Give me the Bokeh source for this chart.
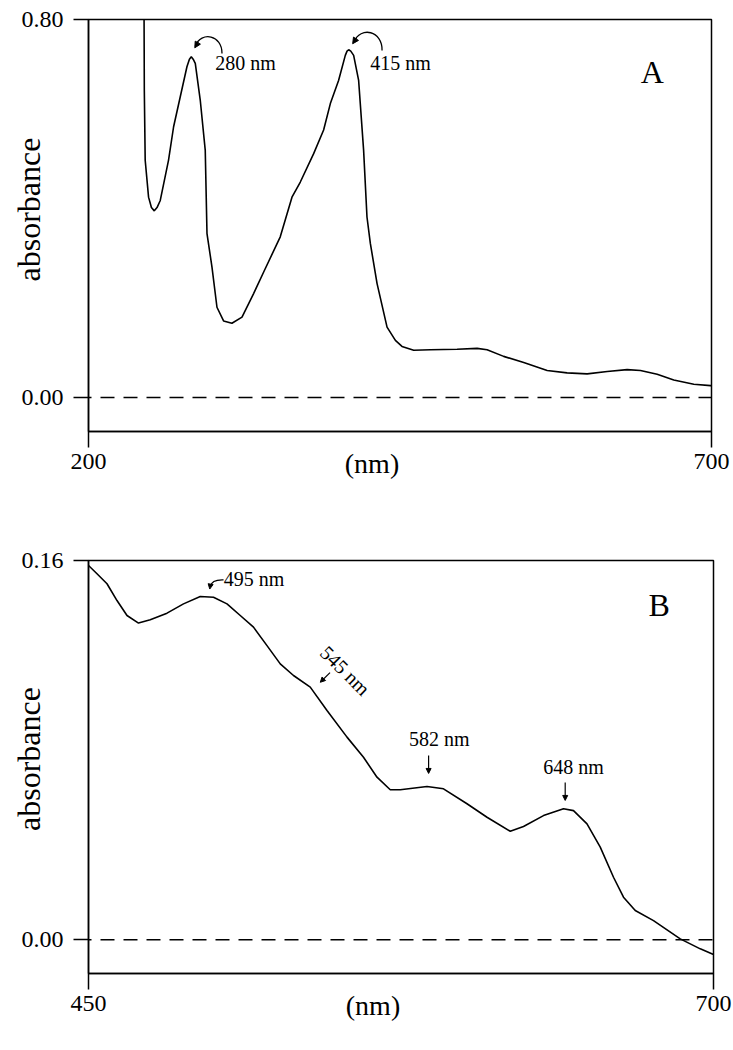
import numpy as np
from bokeh.plotting import figure
from bokeh.layouts import column
from bokeh.models import FixedTicker, PrintfTickFormatter, Span, Label, Arrow, NormalHead, Range1d
from bokeh.embed import file_html
from bokeh.resources import INLINE

FONT = "Liberation Serif"
NB = "\u00a0"

# ---------------- data ----------------
# Panel A : full spectrum
a_nm = [244.6, 244.8, 245.5, 248.2, 250.5, 252.8, 255.0, 257.6, 264.2, 268.3, 273.6, 279.0,
        281.0, 282.5, 284.0, 285.7, 289.7, 293.7, 295.1, 299.1, 303.1, 308.4, 315.1, 323.2,
        332.5, 340.5, 353.9, 363.3, 370.0, 380.7, 388.7, 394.1, 400.7, 406.1, 407.5, 408.8,
        410.5, 412.8, 416.8, 420.8, 423.5, 426.2, 431.6, 439.6, 446.3, 451.6, 461.0, 474.4,
        495.8, 511.9, 519.9, 533.2, 549.3, 568.1, 584.1, 600.2, 616.3, 632.3, 643.0, 656.4,
        669.7, 685.8, 699.2, 700.0]
a_abs = [0.800, 0.650, 0.502, 0.424, 0.402, 0.395, 0.402, 0.417, 0.502, 0.573, 0.636, 0.700,
         0.716, 0.721, 0.716, 0.707, 0.629, 0.523, 0.347, 0.276, 0.191, 0.162, 0.157, 0.170,
         0.220, 0.265, 0.340, 0.424, 0.456, 0.516, 0.566, 0.622, 0.671, 0.724, 0.733, 0.736,
         0.733, 0.724, 0.671, 0.523, 0.382, 0.326, 0.241, 0.149, 0.121, 0.108, 0.100, 0.101,
         0.102, 0.104, 0.101, 0.087, 0.074, 0.057, 0.052, 0.050, 0.055, 0.059, 0.057, 0.049,
         0.037, 0.028, 0.025, 0.025]
a_xticks = [200, 700]
a_yticks = [0.0, 0.8]
a_peak_text = ["280 nm", "415 nm"]
a_peak_nm = [282.5, 408.8]
a_peak_abs = [0.721, 0.736]

# Panel B : visible region
b_nm = [450.0, 453.4, 457.4, 461.4, 465.4, 470.0, 474.7, 481.4, 488.0, 494.7, 500.0, 505.4,
        510.7, 516.0, 521.4, 526.7, 532.0, 538.7, 545.4, 553.4, 560.0, 565.4, 570.7, 574.7,
        585.4, 592.0, 601.4, 609.4, 618.7, 624.0, 632.0, 640.0, 644.0, 649.4, 654.7, 660.0,
        664.0, 668.7, 676.0, 686.7, 694.7, 700.0]
b_abs = [0.1579, 0.1544, 0.1502, 0.1431, 0.1368, 0.1336, 0.1350, 0.1378, 0.1417, 0.1448,
         0.1445, 0.1417, 0.1368, 0.1319, 0.1241, 0.1164, 0.1115, 0.1066, 0.0967, 0.0855,
         0.0770, 0.0686, 0.0633, 0.0633, 0.0647, 0.0637, 0.0574, 0.0517, 0.0458, 0.0478,
         0.0524, 0.0553, 0.0545, 0.0489, 0.0391, 0.0264, 0.0180, 0.0124, 0.0081, 0.0004,
         -0.0038, -0.0062]
b_xticks = [450, 700]
b_yticks = [0.0, 0.16]
b_peak_text = ["495 nm", "545 nm", "582 nm", "648 nm"]
b_peak_nm = [494.7, 545.4, 585.4, 640.0]
b_peak_abs = [0.1448, 0.0967, 0.0647, 0.0553]


class P:
    def __init__(self, xr, yr, fw, fh):
        self.xr, self.yr, self.fw, self.fh = xr, yr, fw, fh
        self.sx = (xr[1] - xr[0]) / fw
        self.sy = (yr[1] - yr[0]) / fh

    def off(self, x, y, dx, dy):
        return x + dx * self.sx, y + dy * self.sy

    def frame(self, left, top):
        return self.xr[0] + left * self.sx, self.yr[1] - top * self.sy


def make_fig(info, xticks, yticks, bl, br, bt, bb, yfmt, xlabel, ylabel):
    p = figure(x_range=Range1d(*info.xr), y_range=Range1d(*info.yr),
               frame_width=info.fw, frame_height=info.fh,
               min_border_left=bl, min_border_right=br, min_border_top=bt, min_border_bottom=bb,
               output_backend="svg", toolbar_location=None)
    p.xgrid.visible = False
    p.ygrid.visible = False
    p.outline_line_color = "black"
    p.outline_line_width = 1.5
    p.outline_line_alpha = 1.0
    p.background_fill_color = "white"
    p.border_fill_color = "white"
    for ax in (p.xaxis[0], p.yaxis[0]):
        ax.axis_line_width = 1.5
        ax.axis_line_color = "black"
        ax.major_tick_line_width = 1.5
        ax.major_tick_line_color = "black"
        ax.major_tick_in = 0
        ax.minor_tick_line_color = None
        ax.major_label_text_font = FONT
        ax.major_label_text_font_size = "24px"
        ax.major_label_text_color = "black"
        ax.axis_label_text_font = FONT
        ax.axis_label_text_font_style = "normal"
        ax.axis_label_text_color = "black"
    p.xaxis[0].ticker = FixedTicker(ticks=xticks)
    p.yaxis[0].ticker = FixedTicker(ticks=yticks)
    p.yaxis[0].formatter = PrintfTickFormatter(format=yfmt)
    p.xaxis[0].major_tick_out = 16
    p.yaxis[0].major_tick_out = 15
    p.xaxis[0].major_label_standoff = 6
    p.yaxis[0].major_label_standoff = 10
    p.xaxis[0].axis_label = xlabel
    p.xaxis[0].axis_label_text_font_size = "28px"
    p.xaxis[0].axis_label_standoff = -24
    p.yaxis[0].axis_label = ylabel
    p.yaxis[0].axis_label_text_font_size = "32px"
    p.yaxis[0].axis_label_standoff = -28
    p.add_layout(Span(location=0, dimension="width", line_color="black",
                      line_width=1.5, line_dash="14 9", line_dash_offset=-12))
    return p


def text(p, x, y, s, size, align="left", angle=0.0):
    p.add_layout(Label(x=x, y=y, text=s, text_font=FONT, text_font_size=size,
                       text_align=align, text_baseline="middle", text_color="black",
                       angle=angle))


def arrow(p, x0, y0, x1, y1, size=7):
    p.add_layout(Arrow(end=NormalHead(size=size, fill_color="black", line_color="black", line_width=1),
                       x_start=x0, y_start=y0, x_end=x1, y_end=y1,
                       line_color="black", line_width=1.2))


XLABEL = "(nm)" + NB * 8

# ---------------- Panel A ----------------
A = P((200, 700), (-0.072, 0.80), 623, 412)
pa = make_fig(A, a_xticks, a_yticks, 88, 22, 19, 77, "%.2f", XLABEL, NB * 4 + "absorbance")
pa.line(a_nm, a_abs, line_color="black", line_width=1.6)

# curved arrows + labels (pixel offsets from the peaks: right, up)
curves_a = [((30.7, 3.4), (31, 22), (10, 26), (4, 11), (7, 15), (3.5, 9)),
            ((33.4, -0.7), (34, 19), (12, 24), (5, 7.6), (8, 12), (4, 6))]
text_ofs_a = [(24, -6.3), (21.7, -13.7)]
for i in range(2):
    x, y = a_peak_nm[i], a_peak_abs[i]
    s, c0, c1, e, h0, h1 = curves_a[i]
    X0, Y0 = A.off(x, y, *s)
    CX0, CY0 = A.off(x, y, *c0)
    CX1, CY1 = A.off(x, y, *c1)
    X1, Y1 = A.off(x, y, *e)
    pa.bezier(x0=[X0], y0=[Y0], x1=[X1], y1=[Y1], cx0=[CX0], cy0=[CY0], cx1=[CX1], cy1=[CY1],
              line_color="black", line_width=1.3)
    arrow(pa, *A.off(x, y, *h0), *A.off(x, y, *h1), size=6)
    tx, ty = A.off(x, y, *text_ofs_a[i])
    text(pa, tx, ty, a_peak_text[i], "20px")

text(pa, *A.frame(563.7, 52.7), "A", "32px", align="center")

# ---------------- Panel B ----------------
B = P((450, 700), (-0.0142, 0.16), 625, 413)
pb = make_fig(B, b_xticks, b_yticks, 88, 20, 52, 77, "%.2f", XLABEL, NB * 2 + "absorbance")
pb.line(b_nm, b_abs, line_color="black", line_width=1.6)

# 495 nm : small hooked arrow
x, y = b_peak_nm[0], b_peak_abs[0]
X0, Y0 = B.off(x, y, 23.3, 16.7)
CX0, CY0 = B.off(x, y, 16, 17)
CX1, CY1 = B.off(x, y, 11, 15)
X1, Y1 = B.off(x, y, 10, 10)
pb.bezier(x0=[X0], y0=[Y0], x1=[X1], y1=[Y1], cx0=[CX0], cy0=[CY0], cx1=[CX1], cy1=[CY1],
          line_color="black", line_width=1.2)
arrow(pb, *B.off(x, y, 10.3, 12), *B.off(x, y, 9.5, 7.5), size=5)
text(pb, *B.off(x, y, 23.5, 18), b_peak_text[0], "20px")

# 545 nm : rotated label with diagonal arrow
x, y = b_peak_nm[1], b_peak_abs[1]
arrow(pb, *B.off(x, y, 3, 38), *B.off(x, y, -6.7, 28.3), size=5)
text(pb, *B.off(x, y, 18.3, 40), b_peak_text[1], "20px", align="center", angle=-0.78)

# 582 nm and 648 nm : vertical arrows
for i, (ax_, a0, a1, tdx, tdy) in zip([2, 3], [(1.6, 31, 13, 12.3, 47), (1.7, 26.3, 8.3, 10, 41.3)]):
    x, y = b_peak_nm[i], b_peak_abs[i]
    arrow(pb, *B.off(x, y, ax_, a0), *B.off(x, y, ax_, a1), size=5)
    text(pb, *B.off(x, y, tdx, tdy), b_peak_text[i], "20px", align="center")

text(pb, *B.frame(570.7, 44), "B", "32px", align="center")

layout = column(pa, pb)
open("out.html", "w").write(file_html(layout, INLINE))
